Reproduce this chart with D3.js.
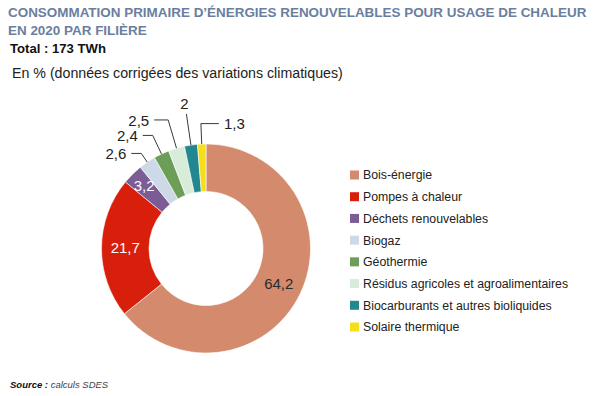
<!DOCTYPE html>
<html><head><meta charset="utf-8">
<script src="https://cdn.jsdelivr.net/npm/d3@7"></script>
<style>html,body{margin:0;padding:0;background:#fff;}svg{display:block;font-family:"Liberation Sans",Arial,Helvetica,sans-serif;}</style>
</head><body>
<svg id="chart" width="605" height="396"></svg>
<script>
const categories = ["Bois-énergie","Pompes à chaleur","Déchets renouvelables","Biogaz","Géothermie","Résidus agricoles et agroalimentaires","Biocarburants et autres bioliquides","Solaire thermique"];
const values = [64.2, 21.7, 3.2, 2.6, 2.4, 2.5, 2, 1.3];
const valueLabels = ["64,2","21,7","3,2","2,6","2,4","2,5","2","1,3"];
const colors = ["#D48A6C","#D81F0C","#7B5C95","#CDD9E6","#6D9E58","#D8ECDA","#22878F","#F4DF1A"];

const svg = d3.select("#chart");
const W = 605, H = 396;

function fitText(sel, width, base) {
  const len = sel.node().getComputedTextLength();
  sel.attr("font-size", base * width / len);
}

// Titles
const titleColor = "#6A7E9E";
const t1 = svg.append("text").attr("x", 8).attr("y", 17).attr("font-weight", "bold").attr("font-size", 14).attr("fill", titleColor)
  .text("CONSOMMATION PRIMAIRE D’ÉNERGIES RENOUVELABLES POUR USAGE DE CHALEUR");
fitText(t1, 579, 14);
const t2 = svg.append("text").attr("x", 8).attr("y", 35).attr("font-weight", "bold").attr("font-size", t1.attr("font-size")).attr("fill", titleColor)
  .text("EN 2020 PAR FILIÈRE");
const t3 = svg.append("text").attr("x", 10).attr("y", 53).attr("font-weight", "bold").attr("font-size", 14).attr("fill", "#111")
  .text("Total : 173 TWh");
fitText(t3, 96, 14);
const t4 = svg.append("text").attr("x", 12).attr("y", 78).attr("font-size", 14).attr("fill", "#222")
  .text("En % (données corrigées des variations climatiques)");
fitText(t4, 331, 14);

// Donut
const cx = 206, cy = 248.5, rOuter = 104.5, rInner = 57;
const g = svg.append("g").attr("transform", `translate(${cx},${cy})`);
const pie = d3.pie().sort(null).value(d => d.v).startAngle(0).endAngle(2 * Math.PI);
const data = categories.map((c, i) => ({c, v: values[i], lab: valueLabels[i], col: colors[i]}));
const arcs = pie(data);
const arc = d3.arc().innerRadius(rInner).outerRadius(rOuter);
g.selectAll("path.slice").data(arcs).enter().append("path")
  .attr("class", "slice").attr("d", arc).attr("fill", d => d.data.col)
  .attr("stroke", "#fff").attr("stroke-width", 0.6);

const pointAt = (d, r) => d3.arc().innerRadius(r).outerRadius(r).centroid(d);

// Inside labels
arcs.forEach((d, i) => {
  if (d.data.v >= 3) {
    const r = d.data.v > 10 ? (rInner + rOuter) / 2 : 88;
    const p = pointAt(d, r);
    g.append("text").attr("x", p[0]).attr("y", p[1]).attr("dy", "0.36em")
      .attr("text-anchor", "middle").attr("font-size", 15)
      .attr("fill", d.data.v > 50 ? "#2a2a2a" : "#fff").text(d.data.lab);
  }
});

// Outside labels with leader lines (layout per slice)
const leader = {
  "Biogaz": {r: 115, h: -10, mode: "left"},
  "Géothermie": {r: 125, h: -10, mode: "left"},
  "Résidus agricoles et agroalimentaires": {r: 134, h: -14, mode: "left"},
  "Biocarburants et autres bioliquides": {r: 136, h: 0, mode: "top"},
  "Solaire thermique": {r: 125, h: 18, mode: "right"}
};
arcs.forEach(d => {
  const L = leader[d.data.c];
  if (!L) return;
  const p0 = pointAt(d, rOuter);
  const p1 = pointAt(d, L.r);
  const p2 = [p1[0] + L.h, p1[1]];
  g.append("path").attr("d", d3.line()([p0, p1, p2])).attr("fill", "none")
    .attr("stroke", "#3a3a3a").attr("stroke-width", 1);
  const tx = g.append("text").attr("font-size", 15).attr("fill", "#222").text(d.data.lab);
  if (L.mode === "left") tx.attr("x", p2[0] - 5).attr("y", p2[1]).attr("dy", "0.38em").attr("text-anchor", "end");
  else if (L.mode === "right") tx.attr("x", p2[0] + 5).attr("y", p2[1]).attr("dy", "0.38em").attr("text-anchor", "start");
  else tx.attr("x", p2[0] - 2).attr("y", p2[1] - 5).attr("text-anchor", "middle");
});

// Legend
const leg = svg.append("g");
const ly = d3.scalePoint().domain(categories).range([175, 327]);
categories.forEach((c, i) => {
  leg.append("rect").attr("x", 350).attr("y", ly(c) - 4.5).attr("width", 9).attr("height", 9).attr("fill", colors[i]);
  leg.append("text").attr("x", 363).attr("y", ly(c)).attr("dy", "0.36em").attr("font-size", 12.3).attr("fill", "#222").text(c);
});

// Source
const src = svg.append("text").attr("x", 10).attr("y", 388).attr("font-size", 9.5).attr("font-style", "italic");
src.append("tspan").attr("font-weight", "bold").attr("fill", "#111").text("Source :");
src.append("tspan").attr("fill", "#444").text(" calculs SDES");
</script>
</body></html>
